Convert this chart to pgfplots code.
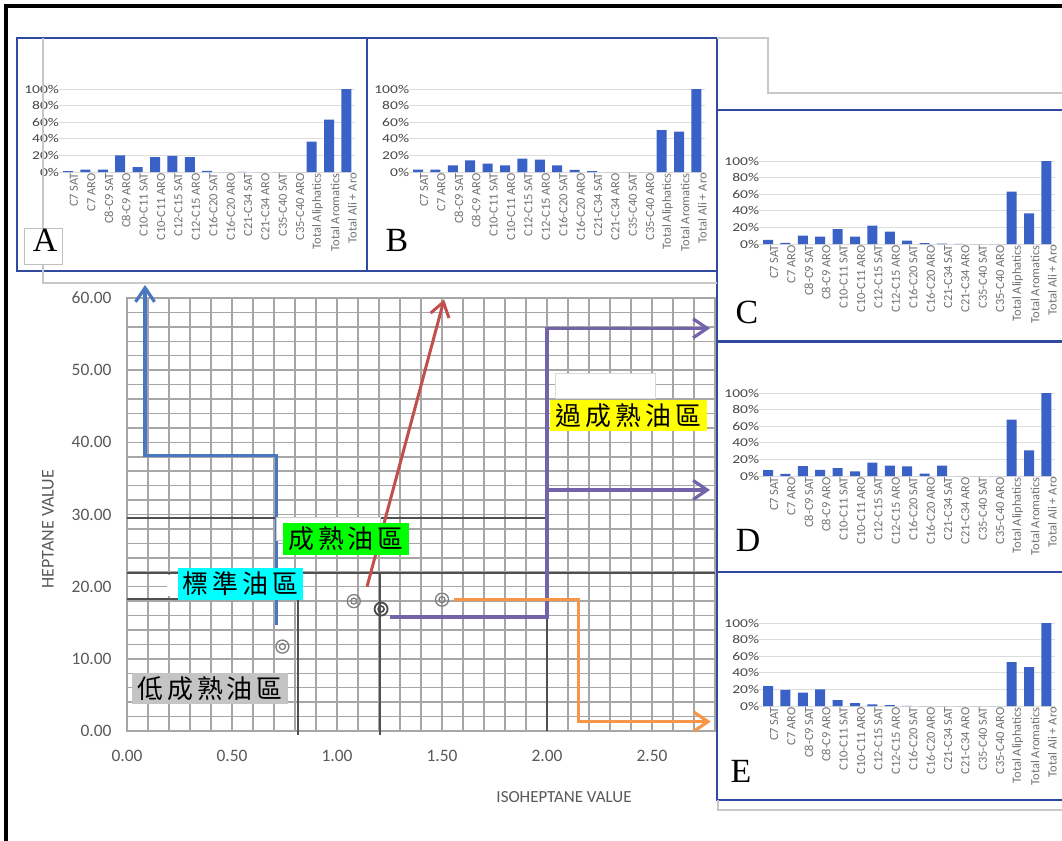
\documentclass[border=0pt]{standalone}
\usepackage{pgfplots}
\pgfplotsset{compat=1.18}
\usepackage{pgfplotstable}
\usetikzlibrary{arrows.meta}
\usepackage{fontspec}
\setmainfont{Carlito}
\newfontfamily\carlito{Carlito}
\newfontfamily\carlitowide{Carlito}[FakeStretch=1.3]
\newfontfamily\cjk{Noto Sans CJK TC}[LetterSpace=15]
\newfontfamily\lserif{Liberation Serif}

\definecolor{gridgray}{HTML}{A6A6A6}
\definecolor{darkline}{HTML}{505050}
\definecolor{labgray}{HTML}{595959}
\definecolor{lineblue}{HTML}{4A78C0}
\definecolor{linered}{HTML}{C0504D}
\definecolor{linepurple}{HTML}{7363A8}
\definecolor{lineorange}{HTML}{F79646}
\definecolor{ptgray}{HTML}{7F7F7F}
\definecolor{panelblue}{HTML}{2F4A9E}
\definecolor{barblue}{HTML}{3A62C6}
\definecolor{pgrid}{HTML}{DCDCDC}
\definecolor{framegray}{HTML}{C8C8C8}
\definecolor{lgreen}{HTML}{00FF00}
\definecolor{lcyan}{HTML}{00FFFF}
\definecolor{lyellow}{HTML}{FFFF00}
\definecolor{lgray}{HTML}{C4C4C4}

% panel data: category index, share (%)
\pgfplotstableread{
x y
0 1
1 3
2 3
3 20
4 6
5 18
6 19.5
7 18
8 1.5
9 0
10 0.3
11 0
12 0
13 0
14 36.5
15 63
16 100
}\dataA
\pgfplotstableread{
x y
0 3
1 3
2 8
3 14
4 10
5 8
6 16
7 15
8 8
9 2.5
10 1
11 0
12 0
13 0
14 50.5
15 48.5
16 100
}\dataB
\pgfplotstableread{
x y
0 5
1 1.5
2 10
3 9
4 18
5 9
6 22
7 15
8 4
9 1.2
10 0.6
11 0.3
12 0
13 0
14 63
15 37
16 100
}\dataC
\pgfplotstableread{
x y
0 7
1 2.5
2 12
3 7.5
4 9.5
5 5.5
6 16
7 12.5
8 11.5
9 3
10 12.5
11 0
12 0
13 0
14 68
15 31
16 100
}\dataD
\pgfplotstableread{
x y
0 24
1 19.5
2 16
3 20
4 7
5 3.5
6 2
7 1.2
8 0.3
9 0
10 0
11 0
12 0
13 0
14 53
15 47
16 100
}\dataE

\pgfplotsset{panel/.style={
  scale only axis, width=295.8bp, height=83bp,
  xmin=-0.5, xmax=16.5, ymin=0, ymax=100,
  ybar, bar width=10bp,
  xtick={0,...,16},
  xticklabels={C7 SAT, C7 ARO, C8-C9 SAT, C8-C9 ARO, C10-C11 SAT, C10-C11 ARO, C12-C15 SAT, C12-C15 ARO, C16-C20 SAT, C16-C20 ARO, C21-C34 SAT, C21-C34 ARO, C35-C40 SAT, C35-C40 ARO, Total Aliphatics, Total Aromatics, Total Ali + Aro},
  xticklabel style={rotate=90, anchor=east, font=\carlito\fontsize{12.5}{12.5}\selectfont, text=labgray!85, inner sep=1bp, yshift=-6bp},
  ytick={0,20,40,60,80,100},
  yticklabel={\pgfmathprintnumber{\tick}\%},
  yticklabel style={font=\carlitowide\fontsize{12}{12}\selectfont, text=labgray!80!black, inner sep=1bp, xshift=1bp},
  ymajorgrids, major grid style={pgrid, line width=1bp},
  major tick length=0,
  axis line style={draw=none},
  /pgf/number format/assume math mode=true,
  clip=false,
}}

\newcommand\panelbox[4]{%
  \fill[white] (#1,#2) rectangle (#3,#4);
  \draw[panelblue, line width=2bp] (#1,#2) rectangle (#3,#4);}
\newcommand\panelaxis[3]{%
  \begin{axis}[panel, at={({#1bp+42.3bp},{-#2bp-134bp})}, anchor=south west]
    \addplot[fill=barblue, draw=none] table[x=x,y=y] {#3};
  \end{axis}}

\begin{document}
\begin{tikzpicture}[x=1bp, y=-1bp]
\fill[white] (0,0) rectangle (1062,841);

\begin{axis}[
  at={(127bp,-731bp)}, anchor=south west,
  scale only axis, width=588bp, height=433bp,
  xmin=0, xmax=2.8, ymin=0, ymax=60,
  xtick={0,0.5,1,1.5,2,2.5},
  ytick={0,10,20,30,40,50,60},
  minor xtick={0.1,0.2,...,2.81},
  minor ytick={2,4,...,58},
  grid=both,
  major grid style={gridgray, line width=1.5bp},
  minor grid style={gridgray, line width=1.5bp},
  major tick length=0, minor tick length=0,
  axis line style={gridgray, line width=1.5bp},
  tick label style={font=\carlito\fontsize{17.5}{17.5}\selectfont, text=labgray},
  /pgf/number format/assume math mode=true,
  xticklabel={\pgfmathprintnumber[fixed,fixed zerofill,precision=2]{\tick}},
  yticklabel={\pgfmathprintnumber[fixed,fixed zerofill,precision=2]{\tick}},
  xticklabel style={yshift=-16bp},
  yticklabel style={xshift=-12bp},
  clip=false,
]
% region boundary lines
\addplot[darkline, line width=1.5bp] coordinates {(0,29.5) (2,29.5)};
\addplot[darkline, line width=1.5bp] coordinates {(0,21.9) (2.8,21.9)};
\addplot[darkline, line width=1.5bp] coordinates {(0,18.3) (0.815,18.3)};
\addplot[darkline, line width=1.5bp] coordinates {(0.815,-0.5) (0.815,21.9)};
\addplot[darkline, line width=1.5bp] coordinates {(1.205,-0.5) (1.205,21.9)};
\addplot[darkline, line width=1.5bp] coordinates {(2,0) (2,29.5)};
% arrows
\addplot[lineblue, line width=3.2bp, -{Straight Barb[length=14bp,width=19bp]}] coordinates {(0.71,14.7) (0.71,38.2) (0.086,38.2) (0.086,61.8)};
\addplot[linered, line width=3bp, -{Straight Barb[length=14bp,width=19bp]}] coordinates {(1.143,20.0) (1.51,59.8)};
\addplot[linepurple, line width=3.2bp, -{Straight Barb[length=14bp,width=19bp]}] coordinates {(1.25,15.8) (2.0,15.8) (2.0,55.8) (2.776,55.8)};
\addplot[linepurple, line width=3.2bp, -{Straight Barb[length=14bp,width=19bp]}] coordinates {(2.0,33.4) (2.776,33.4)};
\addplot[lineorange, line width=3.2bp, -{Straight Barb[length=14bp,width=19bp]}] coordinates {(1.556,18.2) (2.15,18.2) (2.15,1.3) (2.78,1.3)};
% samples
\addplot[only marks, mark=o, mark size=6.5bp, mark options={ptgray, line width=1.3bp}] coordinates {(0.74,11.7) (1.08,18.0) (1.50,18.2)};
\addplot[only marks, mark=o, mark size=3bp, mark options={ptgray, line width=1.3bp}] coordinates {(0.74,11.7) (1.08,18.0) (1.50,18.2)};
\addplot[only marks, mark=o, mark size=6.5bp, mark options={black!70, line width=1.8bp}] coordinates {(1.21,16.9)};
\addplot[only marks, mark=o, mark size=3bp, mark options={black!70, line width=1.6bp}] coordinates {(1.21,16.9)};
\end{axis}

\node[rotate=90, font=\carlito\fontsize{18}{18}\selectfont, text=labgray] at (48,529) {HEPTANE VALUE};
\node[font=\carlito\fontsize{17}{17}\selectfont, text=labgray] at (564,797) {ISOHEPTANE VALUE};

% white boxes
\filldraw[fill=white, draw=gray!30, line width=0.8bp] (555,373) rectangle (655,398);
\filldraw[fill=white, draw=gray!40, line width=0.8bp] (276,517) rectangle (380,540);
\fill[white] (167,575) rectangle (180,596);

% zone labels
\node[fill=lgreen, inner sep=0pt, minimum width=126bp, minimum height=32bp, font=\cjk\fontsize{26}{26}\selectfont] at (346,539) {成熟油區};
\node[fill=lcyan, inner sep=0pt, minimum width=125bp, minimum height=32bp, font=\cjk\fontsize{26}{26}\selectfont] at (240.5,584) {標準油區};
\node[fill=lgray, inner sep=0pt, minimum width=156bp, minimum height=31bp, font=\cjk\fontsize{26}{26}\selectfont] at (210,688.5) {低成熟油區};
\node[fill=lyellow, inner sep=0pt, minimum width=157bp, minimum height=31bp, font=\cjk\fontsize{26}{26}\selectfont] at (628.5,415.5) {過成熟油區};

% panels
\panelbox{17}{38}{367}{271}
\panelaxis{17}{38}{\dataA}
\panelbox{367}{38}{717}{271}
\panelaxis{367}{38}{\dataB}
\panelbox{717}{110}{1066}{341}
\panelaxis{717}{110}{\dataC}
\panelbox{717}{342}{1066}{572}
\panelaxis{717}{342}{\dataD}
\panelbox{717}{572}{1066}{800}
\panelaxis{717}{572}{\dataE}

% grey frames
\draw[framegray, line width=1.5bp] (43,38) -- (43,283) -- (717,283);
\draw[framegray, line width=1.5bp] (717,38) -- (768,38) -- (768,93) -- (1066,93);
\draw[framegray, line width=1.2bp] (718,800) -- (718,810) -- (1066,810);

% panel letters
\filldraw[fill=white, draw=gray!50, line width=0.8bp] (24,228) rectangle (62,264);
\node[font=\lserif\fontsize{34}{34}\selectfont] at (45,240) {A};
\node[font=\lserif\fontsize{34}{34}\selectfont] at (397,240) {B};
\node[font=\lserif\fontsize{34}{34}\selectfont] at (747,312) {C};
\node[font=\lserif\fontsize{34}{34}\selectfont] at (748,540) {D};
\node[font=\lserif\fontsize{34}{34}\selectfont] at (741,771) {E};

% outer frame
\draw[black, line width=3.5bp] (6,860) -- (6,6) -- (1080,6);

\pgfresetboundingbox
\useasboundingbox (0,0) rectangle (1062,841);
\end{tikzpicture}
\end{document}
